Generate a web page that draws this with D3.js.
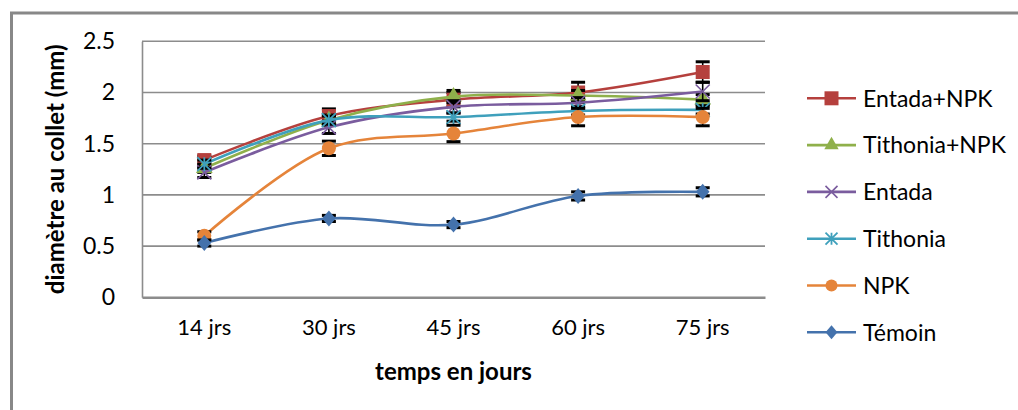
<!DOCTYPE html>
<html>
<head>
<meta charset="utf-8">
<script src="https://cdn.jsdelivr.net/npm/d3@7"></script>
<style>
  html, body { margin: 0; padding: 0; background: #fff; }
  svg { display: block; }
  text { font-family: Lato, "Open Sans", sans-serif; fill: #000; }
</style>
</head>
<body>
<svg id="chart" width="1018" height="410"></svg>
<script>
// Stem diameter over time for each treatment
const categories = ["14 jrs", "30 jrs", "45 jrs", "60 jrs", "75 jrs"];
const seriesNames = ["Entada+NPK", "Tithonia+NPK", "Entada", "Tithonia", "NPK", "Témoin"];
const entadaNpk   = [1.34, 1.77, 1.93, 2.00, 2.20];
const tithoniaNpk = [1.26, 1.73, 1.96, 1.97, 1.93];
const entada      = [1.22, 1.66, 1.86, 1.90, 2.01];
const tithonia    = [1.30, 1.73, 1.76, 1.82, 1.83];
const npk         = [0.60, 1.455, 1.60, 1.76, 1.76];
const temoin      = [0.53, 0.77, 0.71, 0.99, 1.03];
// standard errors
const errEntadaNpk   = [0.04, 0.07, 0.07, 0.10, 0.10];
const errTithoniaNpk = [0.04, 0.05, 0.06, 0.05, 0.05];
const errEntada      = [0.05, 0.06, 0.06, 0.05, 0.09];
const errTithonia    = [0.04, 0.04, 0.04, 0.04, 0.04];
const errNpk         = [0.04, 0.07, 0.08, 0.085, 0.085];
const errTemoin      = [0.03, 0.03, 0.03, 0.04, 0.04];
const yTicks = [0, 0.5, 1, 1.5, 2, 2.5];
const yTickLabels = ["0", "0.5", "1", "1.5", "2", "2.5"];
const yTitle = "diamètre au collet (mm)";
const xTitle = "temps en jours";

const seriesValues = [entadaNpk, tithoniaNpk, entada, tithonia, npk, temoin];
const seriesErrors = [errEntadaNpk, errTithoniaNpk, errEntada, errTithonia, errNpk, errTemoin];
const colors = ["#B5403D", "#8FB04B", "#7A5C9E", "#3FA0BC", "#E5843A", "#4472AC"];
const shapes = ["square", "triangle", "x", "star", "circle", "diamond"];

const series = seriesNames.map((name, i) => ({
  name, color: colors[i], shape: shapes[i],
  points: seriesValues[i].map((v, j) => ({ cat: categories[j], v, e: seriesErrors[i][j] }))
}));

const svg = d3.select("#chart");
const plot = { left: 142, right: 765, top: 41.3, bottom: 297.3 };

const x = d3.scaleBand().domain(categories).range([plot.left, plot.right]);
const y = d3.scaleLinear().domain([0, 2.5]).range([plot.bottom, plot.top]);
const cx = c => x(c) + x.bandwidth() / 2;

// outer chart frame (left and top edges visible)
svg.append("path")
  .attr("d", "M11.5,410 L11.5,13 L1018,13")
  .attr("fill", "none").attr("stroke", "#888").attr("stroke-width", 3);

// horizontal gridlines
svg.append("g").selectAll("line").data(yTicks.filter(t => t > 0)).join("line")
  .attr("x1", plot.left).attr("x2", plot.right)
  .attr("y1", d => y(d)).attr("y2", d => y(d))
  .attr("stroke", "#8c8c8c").attr("stroke-width", 1.6);

// y axis line and labels
const yAxis = d3.axisLeft(y).tickValues(yTicks)
  .tickFormat((d, i) => yTickLabels[i]).tickSize(0).tickPadding(27);
const gy = svg.append("g").attr("transform", `translate(${plot.left},0)`).call(yAxis);
gy.select(".domain").attr("stroke", "#8c8c8c").attr("stroke-width", 1.6);
gy.selectAll("text").style("font-size", "23px").style("font-family", "Lato, sans-serif").attr("fill", "#000");

// x axis
const xAxis = d3.axisBottom(x).tickSize(0).tickPadding(22);
const gx = svg.append("g").attr("transform", `translate(0,${plot.bottom})`).call(xAxis);
gx.select(".domain").attr("stroke", "#8c8c8c").attr("stroke-width", 2.4);
gx.selectAll("text").style("font-size", "22px").style("font-family", "Lato, sans-serif").attr("fill", "#000");

// axis titles
svg.append("text")
  .attr("x", (plot.left + plot.right) / 2).attr("y", 380)
  .attr("text-anchor", "middle").style("font-size", "24px").style("font-weight", "bold")
  .text(xTitle);
svg.append("text")
  .attr("transform", `translate(64,${(plot.top + plot.bottom) / 2}) rotate(-90)`)
  .attr("text-anchor", "middle").style("font-size", "24px").style("font-weight", "bold")
  .text(yTitle);

// marker drawing
function drawMarker(g, shape, color, size) {
  const s = size;
  if (shape === "square") {
    g.append("rect").attr("x", -s / 2).attr("y", -s / 2).attr("width", s).attr("height", s).attr("fill", color);
  } else if (shape === "triangle") {
    g.append("path").attr("d", d3.symbol(d3.symbolTriangle, s * s * 0.62)()).attr("fill", color);
  } else if (shape === "circle") {
    g.append("circle").attr("r", s / 2).attr("fill", color);
  } else if (shape === "diamond") {
    const h = s / 2 + 1;
    g.append("path").attr("d", `M0,${-h}L${h * 0.85},0L0,${h}L${-h * 0.85},0Z`).attr("fill", color);
  } else if (shape === "x") {
    const h = s / 2;
    g.append("path").attr("d", `M${-h},${-h}L${h},${h}M${-h},${h}L${h},${-h}`)
      .attr("stroke", color).attr("stroke-width", 1.6).attr("fill", "none");
  } else if (shape === "star") {
    const h = s / 2;
    g.append("path").attr("d", `M${-h},${-h}L${h},${h}M${-h},${h}L${h},${-h}M0,${-h}L0,${h}`)
      .attr("stroke", color).attr("stroke-width", 1.8).attr("fill", "none");
  }
}

const line = d3.line().x(d => cx(d.cat)).y(d => y(d.v)).curve(d3.curveCatmullRom.alpha(0.5));

series.forEach(s => {
  const g = svg.append("g");
  g.append("path").datum(s.points).attr("d", line)
    .attr("fill", "none").attr("stroke", s.color).attr("stroke-width", 2.6);
  // error bars
  const eb = g.append("g").selectAll("g").data(s.points).join("g")
    .attr("transform", d => `translate(${cx(d.cat)},0)`);
  eb.append("line").attr("y1", d => y(d.v - d.e)).attr("y2", d => y(d.v + d.e))
    .attr("stroke", "#000").attr("stroke-width", 1.6);
  eb.append("line").attr("x1", -7).attr("x2", 7).attr("y1", d => y(d.v + d.e)).attr("y2", d => y(d.v + d.e))
    .attr("stroke", "#000").attr("stroke-width", 3);
  eb.append("line").attr("x1", -7).attr("x2", 7).attr("y1", d => y(d.v - d.e)).attr("y2", d => y(d.v - d.e))
    .attr("stroke", "#000").attr("stroke-width", 3);
  // markers
  g.append("g").selectAll("g").data(s.points).join("g")
    .attr("transform", d => `translate(${cx(d.cat)},${y(d.v)})`)
    .each(function () { drawMarker(d3.select(this), s.shape, s.color, 14); });
});

// legend
const legend = svg.append("g");
series.forEach((s, i) => {
  const ly = 98.3 + i * 46.8;
  const g = legend.append("g").attr("transform", `translate(0,${ly})`);
  g.append("line").attr("x1", 807).attr("x2", 856).attr("stroke", s.color).attr("stroke-width", 2.6);
  const m = g.append("g").attr("transform", "translate(831.5,0)");
  drawMarker(m, s.shape, s.color, s.shape === "square" ? 14 : 12);
  g.append("text").attr("x", 863).attr("y", 0).attr("dy", "0.36em")
    .style("font-size", "23px").text(s.name);
});
</script>
</body>
</html>
